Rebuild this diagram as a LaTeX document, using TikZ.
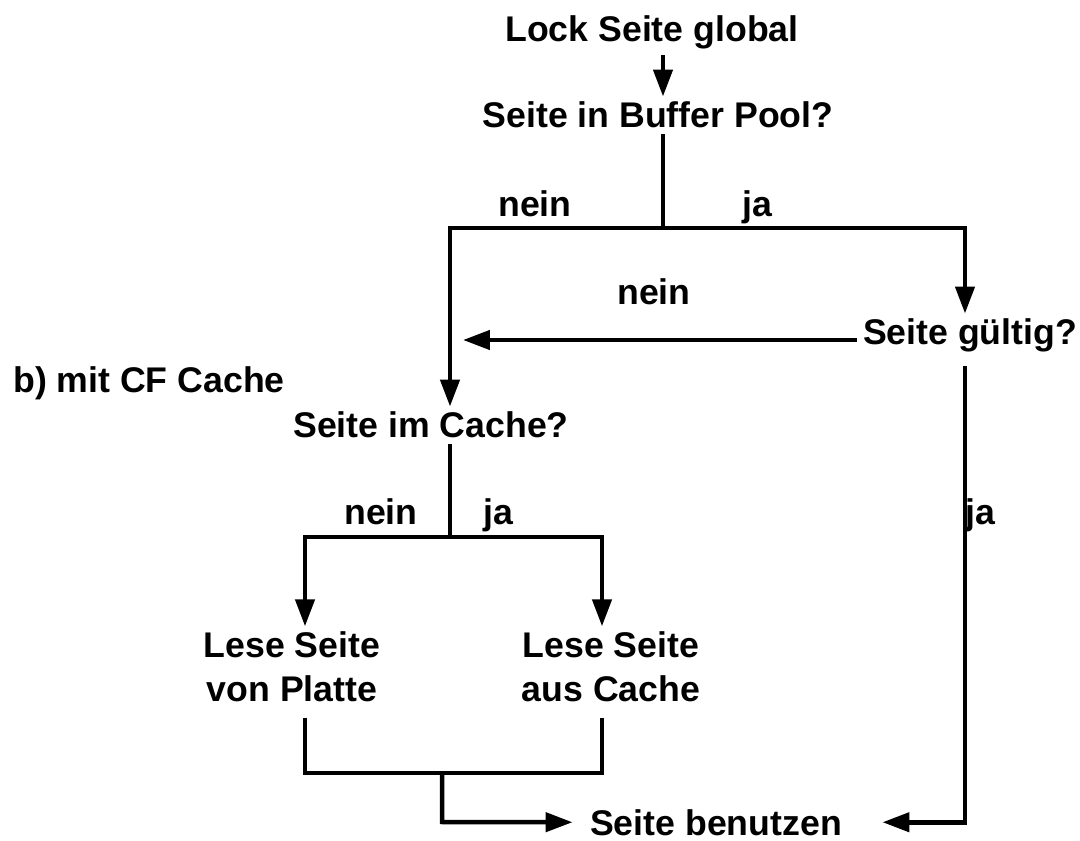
\documentclass[tikz,border=0pt]{standalone}
\usepackage{fontspec}
\setmainfont{Liberation Sans}
\usepackage{tikz}
\usetikzlibrary{arrows.meta}
\usetikzlibrary{calc,positioning}

\begin{document}
\begin{tikzpicture}[x=0.02cm,y=-0.02cm]
  %--------------------------------------------
  % Styles
  %--------------------------------------------
  \tikzset{
    lbl/.style={font=\fontsize{20.3pt}{25pt}\selectfont\bfseries, inner sep=3pt, align=center},
    baselbl/.style={lbl, anchor=base},
    flowline/.style={line width=0.09cm, black},
    flowarrow/.style={flowline, -{Triangle[length=0.54cm,width=0.38cm]}}
  }

  % canvas of the reference (1080 x 841 px)
  \useasboundingbox (0,0) rectangle (1080,841);

  %--------------------------------------------
  % Nodes (steps and questions), placed on their baselines
  %--------------------------------------------
  \node[baselbl] (lock)    at (652,42)  {Lock Seite global};
  \node[baselbl] (pool)    at (658,128) {Seite in Buffer Pool?};
  \node[baselbl] (valid)   at (970,345) {Seite gültig?};
  \node[baselbl] (incache) at (431,438) {Seite im Cache?};
  \node[lbl]     (disk)    at (292,667) {Lese Seite\\von Platte};
  \node[lbl]     (cread)   at (611,667) {Lese Seite\\aus Cache};
  \node[baselbl] (use)     at (716,835) {Seite benutzen};
  \node[baselbl] (title)   at (149,393) {b) mit CF Cache};

  %--------------------------------------------
  % Branch points
  %--------------------------------------------
  \coordinate (top)  at (663,228);
  \coordinate (topL) at (450,228);
  \coordinate (back) at (463,340);
  \coordinate (mid)  at (450,537);
  \coordinate (midL) at (305,537);
  \coordinate (midR) at (602,537);
  \coordinate (bot)  at (442,773);
  \coordinate (botL) at (305,773);
  \coordinate (botR) at (602,773);
  \coordinate (useL) at (442,822);

  %--------------------------------------------
  % Upper part: buffer pool
  %--------------------------------------------
  \draw[flowarrow] (lock.south -| top) -- (pool.north -| top);
  \draw[flowline] (pool.south -| top) -- (top);
  \draw[flowarrow] (top) -| (valid.north -| 965,0);
  \draw[flowarrow] (top) -- (topL) -- (topL |- incache.north);
  \draw[flowarrow] (valid.west |- back) -- (back);
  \draw[flowarrow] ([yshift=-0.16cm]valid.south -| 965,0) |- ([xshift=0.7cm]use.east);

  \node[baselbl] (nein1) at (535,217) {nein};
  \node[baselbl] (ja1)   at (757,217) {ja};
  \node[baselbl] (nein2) at (654,305) {nein};
  \node[baselbl] (ja2)   at (980,525) {ja};

  %--------------------------------------------
  % Lower part: CF cache
  %--------------------------------------------
  \draw[flowline] (incache.south -| mid) -- (mid);
  \draw[flowarrow] (mid) -- (midL) -- (disk.north -| midL);
  \draw[flowarrow] (mid) -- (midR) -- (cread.north -| midR);
  \draw[flowline] ([yshift=-0.2cm]disk.south -| botL) -- (botL) -- (botR) -- ([yshift=-0.2cm]cread.south -| botR);
  \draw[flowarrow] (bot) -- (useL) -- ([xshift=-0.24cm]use.west);

  \node[baselbl] (nein3) at (381,525) {nein};
  \node[baselbl] (ja3)   at (498,525) {ja};
\end{tikzpicture}
\end{document}
